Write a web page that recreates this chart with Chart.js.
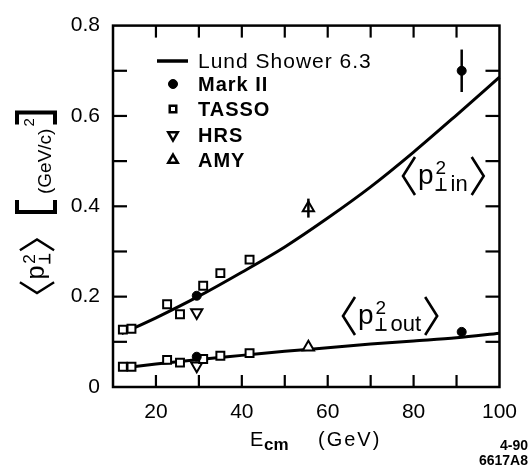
<!DOCTYPE html>
<html>
<head>
<meta charset="utf-8">
<script src="https://cdn.jsdelivr.net/npm/chart.js@4.4.1/dist/chart.umd.min.js"></script>
<style>
  html, body { margin: 0; padding: 0; background: #fff; }
  #wrap { width: 530px; height: 467px; }
</style>
</head>
<body>
<div id="wrap"><canvas id="c" width="530" height="467"></canvas></div>
<script>
// energies (GeV) and <pT^2> values
const tassoE = [12.3, 14.3, 22.6, 25.6, 31.0, 35.0, 41.8];
const tassoIn = [0.127, 0.129, 0.183, 0.161, 0.224, 0.252, 0.282];
const tassoOut = [0.045, 0.045, 0.060, 0.054, 0.062, 0.069, 0.075];
const markE = [29.5, 91.2];
const markIn = [0.202, 0.700];
const markInErr = [0, 0.047];
const markOut = [0.067, 0.122];
const hrsE = [29.5];
const hrsIn = [0.165];
const hrsOut = [0.047];
const amyE = [55.5];
const amyIn = [0.396];
const amyInErr = [0.021];
const amyOut = [0.088];
const lundE = [12, 20, 30, 40, 50, 60, 70, 80, 90, 100];
const lundIn = [0.118, 0.153, 0.201, 0.254, 0.310, 0.374, 0.443, 0.520, 0.602, 0.686];
const lundOut = [0.042, 0.051, 0.061, 0.070, 0.079, 0.087, 0.095, 0.102, 0.109, 0.119];
const xTicks = [20, 40, 60, 80, 100];
const yTicks = [0, 0.2, 0.4, 0.6, 0.8];

const FONT = '"Liberation Sans", Arial, Helvetica, sans-serif';
const BLACK = '#000';

const pts = (xs, ys) => xs.map((x, i) => ({ x: x, y: ys[i] }));

function line(ctx, x1, y1, x2, y2) {
  ctx.beginPath();
  ctx.moveTo(x1, y1);
  ctx.lineTo(x2, y2);
  ctx.stroke();
}

// draws  < p^2_perp sub >  with the left bracket tip at (x0, mid)
function drawExpr(ctx, x0, mid, sub, s) {
  const bw = 12 * s, bh = 38 * s;
  ctx.save();
  ctx.fillStyle = BLACK;
  ctx.strokeStyle = BLACK;
  ctx.textAlign = 'left';
  ctx.textBaseline = 'alphabetic';
  ctx.lineWidth = 2.6 * s;
  ctx.beginPath();
  ctx.moveTo(x0 + bw, mid - bh / 2);
  ctx.lineTo(x0, mid);
  ctx.lineTo(x0 + bw, mid + bh / 2);
  ctx.stroke();
  let x = x0 + bw + 3 * s;
  ctx.font = (28 * s) + 'px ' + FONT;
  ctx.fillText('p', x, mid + 8 * s);
  x += ctx.measureText('p').width + 2 * s;
  ctx.font = (19 * s) + 'px ' + FONT;
  ctx.fillText('2', x, mid - 2 * s);
  const supEnd = x + ctx.measureText('2').width;
  const pw = 11 * s, ph = 12 * s, pb = mid + 14 * s;
  ctx.lineWidth = 1.8 * s;
  line(ctx, x, pb, x + pw, pb);
  line(ctx, x + pw / 2, pb, x + pw / 2, pb - ph);
  let subEnd = x + pw;
  if (sub) {
    ctx.font = (22 * s) + 'px ' + FONT;
    ctx.fillText(sub, subEnd + 4 * s, pb + 1 * s);
    subEnd += 4 * s + ctx.measureText(sub).width;
  }
  const xr = Math.max(supEnd, subEnd) + 4 * s;
  ctx.lineWidth = 2.6 * s;
  ctx.beginPath();
  ctx.moveTo(xr, mid - bh / 2);
  ctx.lineTo(xr + bw, mid);
  ctx.lineTo(xr, mid + bh / 2);
  ctx.stroke();
  ctx.restore();
}

const errorBars = {
  id: 'errorBars',
  afterDatasetsDraw(chart) {
    const ctx = chart.ctx, x = chart.scales.x, y = chart.scales.y;
    ctx.save();
    ctx.strokeStyle = BLACK;
    ctx.lineWidth = 2.5;
    const bars = [[markE, markIn, markInErr], [amyE, amyIn, amyInErr]];
    bars.forEach(([es, vs, errs]) => {
      es.forEach((e, i) => {
        if (!errs[i]) return;
        const px = x.getPixelForValue(e);
        line(ctx, px, y.getPixelForValue(vs[i] - errs[i]), px, y.getPixelForValue(vs[i] + errs[i]));
      });
    });
    ctx.restore();
  }
};

const frameAndText = {
  id: 'frameAndText',
  afterDraw(chart) {
    const ctx = chart.ctx, xs = chart.scales.x, ys = chart.scales.y;
    const { left, right, top, bottom } = chart.chartArea;
    ctx.save();
    ctx.strokeStyle = BLACK;
    ctx.fillStyle = BLACK;
    ctx.lineWidth = 2.5;
    ctx.strokeRect(left, top, right - left, bottom - top);
    // inward ticks on all four sides
    ctx.lineWidth = 2.2;
    for (let k = 2; k <= 9; k++) {
      const px = xs.getPixelForValue(k * 10);
      line(ctx, px, bottom, px, bottom - 12);
      line(ctx, px, top, px, top + 12);
    }
    for (let k = 1; k <= 7; k++) {
      const py = ys.getPixelForValue(k / 10);
      line(ctx, left, py, left + 14, py);
      line(ctx, right, py, right - 14, py);
    }

    // legend
    const lx = 173, tx = 198;
    ctx.lineWidth = 3.5;
    line(ctx, 157, 61, 188, 61);
    ctx.textBaseline = 'middle';
    ctx.textAlign = 'left';
    ctx.letterSpacing = '1px';
    ctx.font = '21px ' + FONT;
    ctx.fillText('Lund Shower 6.3', tx, 62);
    ctx.font = 'bold 20px ' + FONT;
    const rows = [
      ['Mark II', 84, { pointStyle: 'circle', radius: 4.5, borderWidth: 1, rotation: 0 }, BLACK],
      ['TASSO', 109, { pointStyle: 'rect', radius: 4.6, borderWidth: 2.5, rotation: 0 }, '#fff'],
      ['HRS', 135, { pointStyle: 'triangle', radius: 5.5, borderWidth: 2.5, rotation: 180 }, '#fff'],
      ['AMY', 160, { pointStyle: 'triangle', radius: 5.5, borderWidth: 2.5, rotation: 0 }, '#fff']
    ];
    rows.forEach(([label, yy, opt, fill]) => {
      ctx.fillStyle = fill;
      ctx.lineWidth = opt.borderWidth;
      Chart.helpers.drawPoint(ctx, opt, lx, yy);
      ctx.fillStyle = BLACK;
      ctx.fillText(label, tx, yy + 1);
    });
    ctx.letterSpacing = '0px';

    // curve labels
    drawExpr(ctx, 403, 176, 'in', 1);
    drawExpr(ctx, 343, 316, 'out', 1);

    // y axis title, rotated
    ctx.save();
    ctx.translate(0, 293);
    ctx.rotate(-Math.PI / 2);
    drawExpr(ctx, 0, 37, '', 0.9);
    ctx.lineWidth = 4;
    ctx.beginPath();
    ctx.moveTo(93, 17); ctx.lineTo(81, 17); ctx.lineTo(81, 55); ctx.lineTo(93, 55);
    ctx.stroke();
    ctx.textBaseline = 'alphabetic';
    ctx.font = '19px ' + FONT;
    ctx.fillText('(GeV/c)', 99, 51);
    const gw = ctx.measureText('(GeV/c)').width;
    ctx.font = '15px ' + FONT;
    ctx.fillText('2', 99 + gw + 2, 34);
    const rb = 99 + gw + 16;
    ctx.beginPath();
    ctx.moveTo(rb - 12, 17); ctx.lineTo(rb, 17); ctx.lineTo(rb, 55); ctx.lineTo(rb - 12, 55);
    ctx.stroke();
    ctx.restore();

    // x axis title
    ctx.textBaseline = 'alphabetic';
    ctx.textAlign = 'left';
    ctx.font = '20px ' + FONT;
    ctx.fillText('E', 250, 446);
    ctx.font = 'bold 17px ' + FONT;
    ctx.fillText('cm', 264, 450);
    ctx.font = '20px ' + FONT;
    ctx.letterSpacing = '2px';
    ctx.fillText('(GeV)', 318, 446);
    ctx.letterSpacing = '0px';

    // figure id
    ctx.textAlign = 'right';
    ctx.font = 'bold 14px ' + FONT;
    ctx.fillText('4-90', 528, 450);
    ctx.fillText('6617A8', 528, 465);
    ctx.restore();
  }
};

Chart.defaults.font.family = FONT;
Chart.defaults.font.size = 20;
Chart.defaults.color = BLACK;

const markerBase = { showLine: false, borderColor: BLACK, pointBorderColor: BLACK };

new Chart(document.getElementById('c'), {
  type: 'scatter',
  data: {
    datasets: [
      Object.assign({}, markerBase, {
        label: 'Mark II',
        data: pts(markE, markIn).concat(pts(markE, markOut)),
        pointStyle: 'circle', pointRadius: 4.5, pointBorderWidth: 1,
        pointBackgroundColor: BLACK
      }),
      Object.assign({}, markerBase, {
        label: 'TASSO',
        data: pts(tassoE, tassoIn).concat(pts(tassoE, tassoOut)),
        pointStyle: 'rect', pointRadius: 5.6, pointBorderWidth: 2,
        pointBackgroundColor: '#fff'
      }),
      Object.assign({}, markerBase, {
        label: 'HRS',
        data: pts(hrsE, hrsIn).concat(pts(hrsE, hrsOut)),
        pointStyle: 'triangle', pointRotation: 180, pointRadius: 6.5, pointBorderWidth: 2,
        pointBackgroundColor: '#fff'
      }),
      Object.assign({}, markerBase, {
        label: 'AMY',
        data: pts(amyE, amyIn).concat(pts(amyE, amyOut)),
        pointStyle: 'triangle', pointRadius: 6.5, pointBorderWidth: 2,
        pointBackgroundColor: '#fff'
      }),
      {
        label: 'Lund Shower 6.3 (in)',
        data: pts(lundE, lundIn),
        showLine: true, pointRadius: 0, borderWidth: 3, borderColor: BLACK,
        cubicInterpolationMode: 'monotone', fill: false
      },
      {
        label: 'Lund Shower 6.3 (out)',
        data: pts(lundE, lundOut),
        showLine: true, pointRadius: 0, borderWidth: 3, borderColor: BLACK,
        cubicInterpolationMode: 'monotone', fill: false
      }
    ]
  },
  options: {
    responsive: false,
    animation: false,
    clip: false,
    layout: { padding: { left: 0, top: 15, right: 20, bottom: 0 } },
    plugins: { legend: { display: false }, tooltip: { enabled: false } },
    scales: {
      x: {
        type: 'linear', min: 10, max: 100,
        grid: { display: false, drawTicks: false },
        border: { display: false },
        afterBuildTicks: s => { s.ticks = xTicks.map(v => ({ value: v })); },
        afterFit: s => { s.height = 80; },
        ticks: { padding: 13, maxRotation: 0, font: { size: 21 } }
      },
      y: {
        type: 'linear', min: 0, max: 0.8,
        grid: { display: false, drawTicks: false },
        border: { display: false },
        afterBuildTicks: s => { s.ticks = yTicks.map(v => ({ value: v })); },
        afterFit: s => { s.width = 113; },
        ticks: { padding: 13, font: { size: 21 }, callback: v => String(v) }
      }
    }
  },
  plugins: [errorBars, frameAndText]
});
</script>
</body>
</html>
